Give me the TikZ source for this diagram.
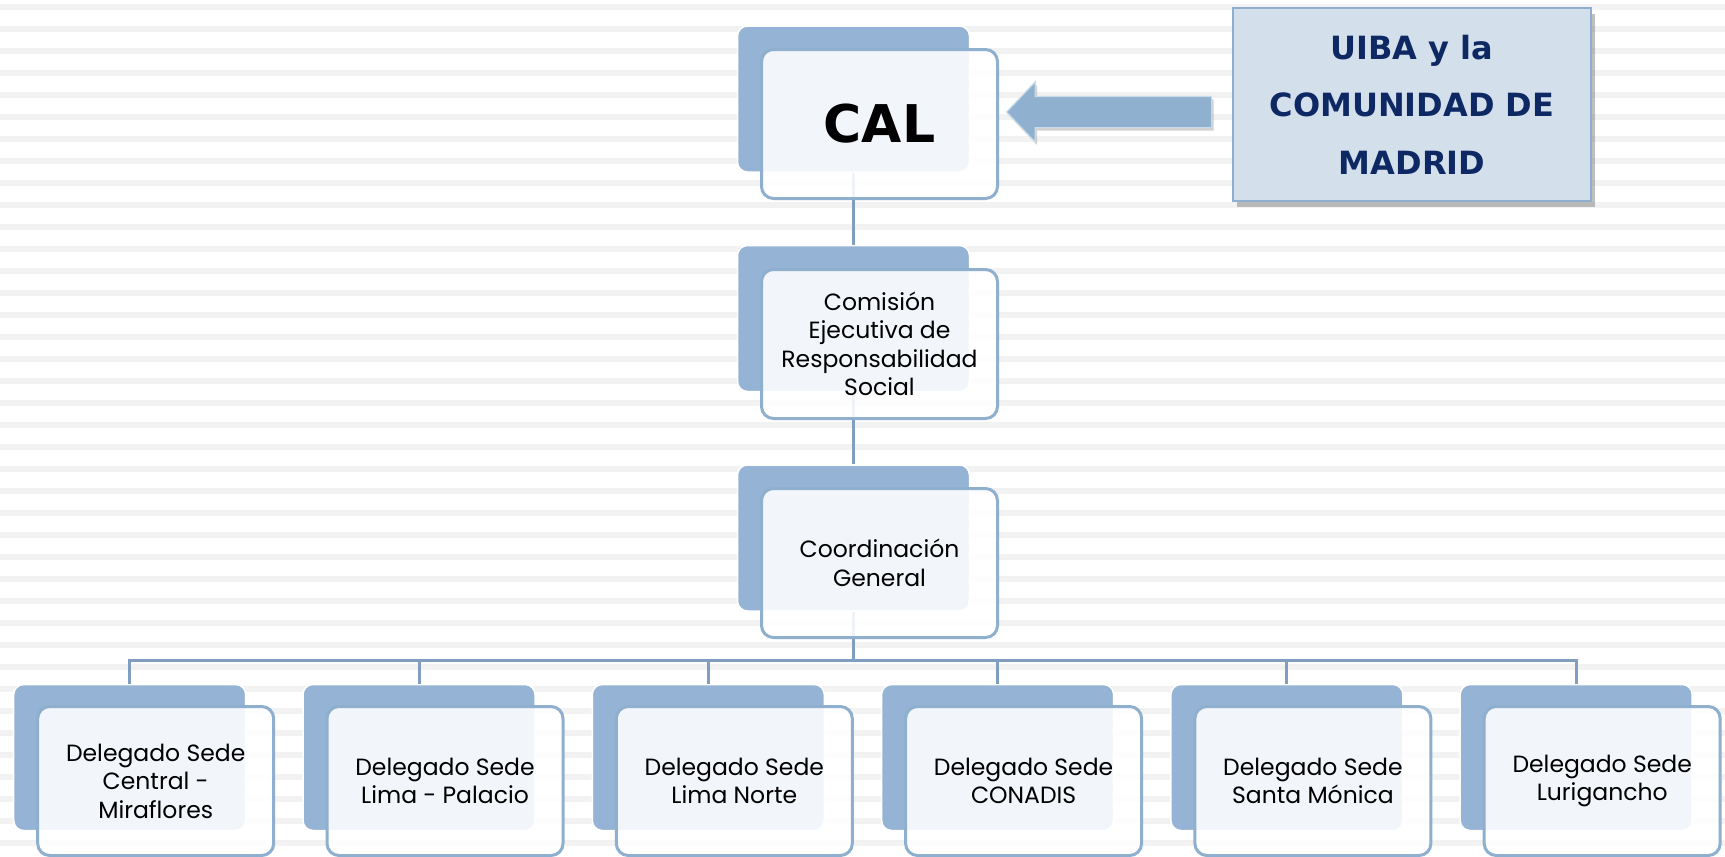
\documentclass[tikz,border=0pt]{standalone}
\usepackage{fontspec}
\setmainfont{Poppins}
\newfontfamily\boldsans{DejaVu Sans}
\usetikzlibrary{shapes.arrows,shadows}
\definecolor{backblue}{HTML}{95B3D4}
\definecolor{edgeblue}{HTML}{8FAFCF}
\definecolor{lineblue}{HTML}{7F9EC0}
\definecolor{stripegray}{HTML}{F2F2F2}
\definecolor{uibafill}{HTML}{D3DFEB}
\definecolor{navytext}{HTML}{0E2863}
\definecolor{arrowfill}{HTML}{8FB0CE}
\definecolor{arrowedge}{HTML}{C9DAEA}
\begin{document}
\begin{tikzpicture}[x=1pt,y=-1pt,
 backbox/.style={rectangle, rounded corners=10pt, fill=backblue, draw=white, line width=1.5pt, minimum width=232pt, minimum height=146pt, inner sep=0pt},
 frontbox/.style={rectangle, rounded corners=12pt, fill=white, fill opacity=0.88, text opacity=1, draw=edgeblue, draw opacity=1, line width=3pt, minimum width=236pt, minimum height=149pt, align=center, font=\fontsize{23.5}{28.5}\selectfont, inner sep=2pt},
 link/.style={draw=lineblue, line width=3pt},
]
\useasboundingbox (0,0) rectangle (1725,857);
\fill[white] (0,0) rectangle (1725,857);
\foreach \k in {0,...,38}
  \fill[stripegray] (0,{4+22*\k}) rectangle (1725,{10+22*\k});

% back boxes
\node[backbox] (calb) at (853.5,99) {};
\node[backbox] (comb) at (853.5,318.5) {};
\node[backbox] (coob) at (853.5,538) {};
\foreach \i in {1,...,6}
  \node[backbox] (d\i b) at ({129.7+289.3*(\i-1)},757.5) {};

% connectors
\coordinate (bus) at (853.5,660);
\draw[link] (calb.south) -- (comb.north);
\draw[link] (comb.south) -- (coob.north);
\draw[link] (coob.south) -- (bus);
\foreach \i in {1,...,6}
  \draw[link] (bus) -| (d\i b.north);

% front boxes
\node[frontbox, font=\boldsans\bfseries\fontsize{52}{60}\selectfont] (cal) at (879.5,124) {CAL};
\node[frontbox] (com) at (879.5,344) {Comisión\\Ejecutiva de\\Responsabilidad\\Social};
\node[frontbox] (coo) at (879.5,563) {Coordinación\\General};
\node[frontbox] (d1) at (155.7,781) {Delegado Sede\\Central -\\Miraflores};
\node[frontbox] (d2) at (445.0,781) {Delegado Sede\\Lima - Palacio};
\node[frontbox] (d3) at (734.3,781) {Delegado Sede\\Lima Norte};
\node[frontbox] (d4) at (1023.6,781) {Delegado Sede\\CONADIS};
\node[frontbox] (d5) at (1312.9,781) {Delegado Sede\\Santa Mónica};
\node[frontbox] (d6) at (1602.2,781) {Delegado Sede\\Lurigancho};

% external box and arrow
\node[rectangle, fill=uibafill, draw=edgeblue, line width=2pt, minimum width=358pt, minimum height=193pt, inner sep=0pt,
      drop shadow={shadow xshift=4pt, shadow yshift=-6pt, opacity=0.5},
      text=navytext] (uiba) at (1412,104.5)
      {\raisebox{-3pt}{\parbox{340pt}{\centering\boldsans\bfseries\fontsize{32}{57.5}\selectfont UIBA y la\\COMUNIDAD DE\\MADRID}}};
\node[single arrow, shape border rotate=180, fill=arrowfill, draw=arrowedge, line width=1.2pt,
      inner xsep=0pt, inner ysep=15pt, minimum height=205pt, single arrow head extend=14.5pt, single arrow tip angle=93,
      drop shadow={shadow xshift=2pt, shadow yshift=-3pt, opacity=0.35}] (arr) at (1116.5,112) {};
\end{tikzpicture}
\end{document}
